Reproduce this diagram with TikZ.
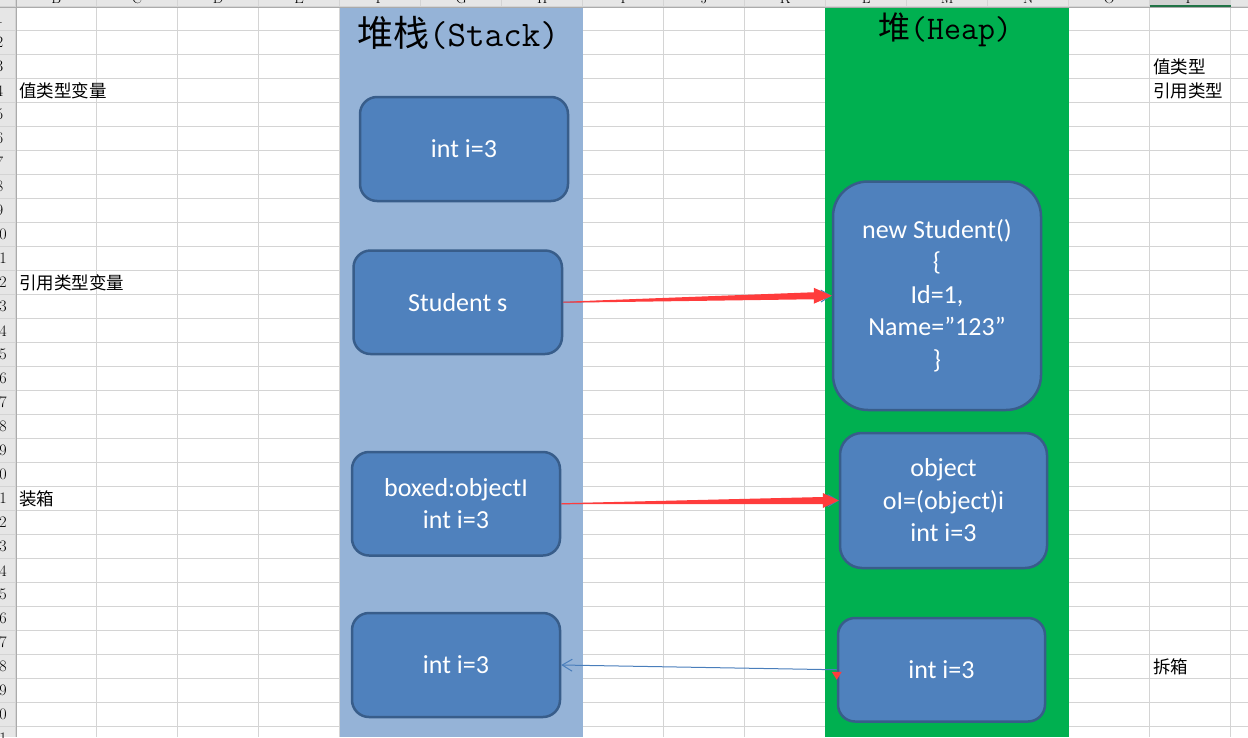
\documentclass[tikz,border=0pt]{standalone}
\usepackage{fontspec}
\newfontfamily\cjk{Noto Sans CJK SC}
\newfontfamily\boxfont{Carlito}
\usetikzlibrary{arrows.meta,calc}
\definecolor{stackblue}{RGB}{149,179,215}
\definecolor{heapgreen}{RGB}{0,176,80}
\definecolor{boxfill}{RGB}{79,129,189}
\definecolor{boxline}{RGB}{56,93,138}
\definecolor{gridgray}{RGB}{212,212,212}
\definecolor{headgray}{RGB}{230,230,230}
\definecolor{headline}{RGB}{171,171,171}
\definecolor{selgray}{RGB}{210,210,210}
\definecolor{selgreen}{RGB}{33,115,70}
\definecolor{arrowred}{RGB}{255,60,60}
\definecolor{linkblue}{RGB}{74,126,187}
\tikzset{
	membox/.style={draw=boxline, line width=2.5pt, fill=boxfill, text=white, font=\boxfont\fontsize{26}{32.5}\selectfont, align=center, inner sep=0pt, minimum width=208pt, minimum height=104pt, rounded corners=17pt},
	sidelabel/.style={anchor=west, inner sep=0pt, font=\cjk\fontsize{17.5}{20}\selectfont},
	gridline/.style={draw=gridgray, line width=1pt},
	linkline/.style={draw=linkblue, line width=1pt},
	barbtip/.style={-{Straight Barb[length=10pt,width=12pt]}},
}

\begin{document}
\begin{tikzpicture}[x=1pt,y=1pt,yscale=-1]
	\useasboundingbox (0,0) rectangle (1248,737);
	\clip (0,0) rectangle (1248,737);
	\fill[headgray] (0,0) rectangle (1248,6.7);
	\fill[headgray] (0,0) rectangle (15.7,737);
	\fill[selgray] (1149.7,0) rectangle (1230.7,6.7);
	\foreach \c in {0,...,15} \draw[gridline] ({15.7+81*\c},0) -- ({15.7+81*\c},737);
	\foreach \r in {0,...,30} \draw[gridline] (0,{6.7+24*\r}) -- (1248,{6.7+24*\r});
	\begin{scope}
		\clip (15.7,0) rectangle (1248,6.7);
		\foreach \l [count=\i from 0] in {B,...,P} \node[anchor=base, inner sep=0pt, font=\fontsize{15}{15}\selectfont] (col\l) at ({56.2+81*\i},3.5) {\l};
	\end{scope}
	\begin{scope}
		\clip (0,6.7) rectangle (15.7,737);
		\foreach \r in {1,...,31} \node[inner sep=0pt, font=\fontsize{16}{16}\selectfont] (row\r) at (-0.5,{18.7+24*(\r-1)}) {\r};
	\end{scope}
	\fill[stackblue] (339.5,6.7) rectangle (582.7,737);
	\fill[heapgreen] (825.3,6.7) rectangle (1068.7,737);
	\draw[headline] (0,6.7) -- (1248,6.7);
	\draw[headline] (15.7,0) -- (15.7,737);
	\draw[selgreen, line width=2pt] (1149.7,5.7) -- (1230.7,5.7);

	\node[inner sep=0pt] (stacktitle) at (458,33) {{\cjk\fontsize{36}{40}\selectfont 堆栈}{\ttfamily\fontsize{36}{40}\selectfont (Stack)}};
	\node[inner sep=0pt] (heaptitle) at (945,30) {{\cjk\fontsize{32}{36}\selectfont 堆}{\ttfamily\fontsize{33}{36}\selectfont (Heap)}};

	\node[sidelabel] (valvar) at (19,90.7) {值类型变量};
	\node[sidelabel] (refvar) at (19,282.7) {引用类型变量};
	\node[sidelabel] (boxing) at (19,498.7) {装箱};
	\node[sidelabel] (valtype) at (1153,66.7) {值类型};
	\node[sidelabel] (reftype) at (1153,90.7) {引用类型};
	\node[sidelabel] (unboxing) at (1153,666.7) {拆箱};

	\node[membox] (sval) at (464,149) {int i=3};
	\node[membox, minimum width=208.5pt, minimum height=103.5pt] (sref) at (457.75,302.25) {Student s};
	\node[membox, minimum height=103.5pt] (sbox) at (456,503.75) {boxed:objectI\\int i=3};
	\node[membox] (sunb) at (456,665) {int i=3};
	\node[membox, minimum height=228.5pt, rounded corners=35pt] (hstu) at (937,295.75) {new Student()\\\{\\Id=1,\\Name=”123”\\\}};
	\node[membox, minimum width=207pt, minimum height=135pt, rounded corners=22pt] (hobj) at (943.5,500.5) {object\\oI=(object)i\\int i=3};
	\node[membox, minimum width=207pt, minimum height=103.5pt] (hint) at (941.5,669.75) {int i=3};

	\draw[linkline, barbtip] (sref.east) -- (hstu.west);
	\draw[linkline, barbtip] (sbox.east) -- (hobj.west);
	\draw[linkline, barbtip] (hint.west) -- (sunb.east);

	\fill[arrowred] ($(sref.east)+(0,-0.5)$) -- ($(hstu.west)+(-18,-3.5)$) -- ($(hstu.west)+(-18,-8)$) -- (hstu.west) -- ($(hstu.west)+(-18,8)$) -- ($(hstu.west)+(-18,3.5)$) -- ($(sref.east)+(0,0.5)$) -- cycle;
	\fill[arrowred] ($(sbox.east)+(0,-0.5)$) -- ($(hobj.west)+(-16,-3.5)$) -- ($(hobj.west)+(-16,-7.5)$) -- (hobj.west) -- ($(hobj.west)+(-16,7.5)$) -- ($(hobj.west)+(-16,3.5)$) -- ($(sbox.east)+(0,0.5)$) -- cycle;
	\fill[arrowred] ($(hint.west)+(-5,2)$) -- ($(hint.west)+(5,2)$) -- ($(hint.west)+(0,10)$) -- cycle;
\end{tikzpicture}
\end{document}
